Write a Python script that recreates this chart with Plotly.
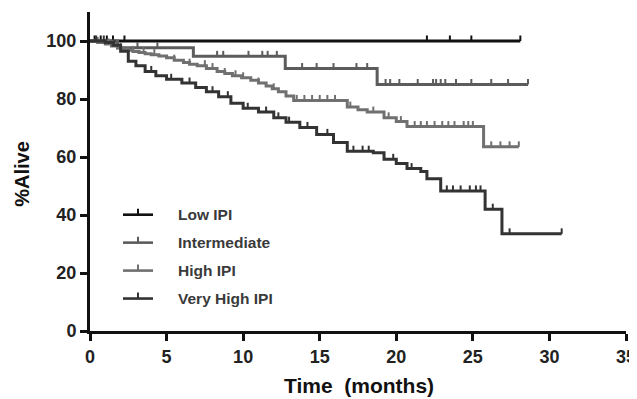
import plotly.graph_objects as go

# ---- data ----
low_t = [0, 28.1]
low_s = [100, 100]
low_cens = [0.3, 0.7, 1.1, 1.5, 2.25, 22.0, 23.5, 24.9, 28.1]

int_t = [0, 1.8, 6.75, 12.75, 18.75, 28.6]
int_s = [100, 97.7, 94.7, 90.5, 85.0, 85.0]
int_cens = [3.1, 4.4, 8.3, 8.7, 10.35, 11.25, 11.6, 12.2, 13.85, 14.8, 15.9, 17.4,
            18.1, 19.3, 19.6, 20.2, 21.4, 22.4, 22.6, 22.9, 23.2, 23.9, 24.9, 26.2,
            27.3, 28.6]

high_t = [0, 0.5, 1.0, 1.4, 1.8, 2.1, 2.5, 2.8, 3.2, 3.6, 4.0, 4.5, 5.0, 5.5, 6.1,
          6.5, 7.0, 7.6, 8.3, 8.8, 9.3, 9.9, 10.5, 11.0, 11.5, 11.9, 12.3, 12.8,
          13.3, 16.8, 17.5, 18.1, 19.2, 20.0, 20.7, 25.7, 28.0]
high_s = [100, 99.5, 99.0, 98.3, 97.6, 97.2, 96.8, 96.4, 96.0, 95.6, 95.3, 94.8,
          94.2, 93.4, 92.6, 92.0, 91.5, 90.5, 89.5, 88.8, 88.0, 87.3, 86.5, 85.5,
          84.5, 83.5, 82.5, 81.0, 79.5, 77.2, 76.3, 75.5, 73.5, 72.2, 70.5, 63.5, 63.5]
high_cens = [0.5, 1.2, 2.0, 2.8, 3.5, 4.2, 5.5, 6.5, 7.5, 8.0, 8.8, 9.5, 10.0, 11.0,
             12.0, 13.5, 14.0, 14.5, 15.0, 15.5, 16.0, 17.0, 18.5, 19.5, 20.3, 21.2,
             21.6, 22.0, 22.5, 23.0, 23.4, 23.8, 24.4, 24.7, 25.0, 26.2, 26.8, 27.4,
             28.0]

vhigh_t = [0, 1.0, 1.5, 2.0, 2.5, 3.0, 3.6, 4.3, 5.0, 6.0, 6.9, 7.6, 8.4, 9.2, 10.0,
           11.0, 12.0, 12.8, 13.7, 14.8, 15.9, 16.8, 18.5, 19.2, 20.0, 20.7, 21.6,
           22.0, 22.9, 25.8, 26.9, 30.8]
vhigh_s = [100, 99.5, 98.5, 96.5, 93.0, 91.5, 89.5, 88.0, 86.8, 85.5, 84.0, 82.5,
           80.8, 78.5, 76.8, 75.5, 73.5, 72.0, 70.2, 67.8, 65.0, 62.0, 61.5, 59.2,
           57.8, 56.0, 55.0, 52.5, 48.3, 42.0, 33.5, 33.5]
vhigh_cens = [0.4, 0.9, 1.6, 4.0, 5.3, 6.5, 8.0, 9.0, 10.3, 11.5, 12.3, 13.0, 14.2,
              15.5, 17.2, 17.8, 18.2, 19.8, 21.0, 23.3, 23.7, 24.2, 24.8, 25.2, 25.5,
              26.3, 27.4, 30.8]

series_names = ["Low IPI", "Intermediate", "High IPI", "Very High IPI"]
series_colors = ["#111111", "#5c5c5c", "#707070", "#333333"]

x_ticks = [0, 5, 10, 15, 20, 25, 30, 35]
y_ticks = [0, 20, 40, 60, 80, 100]
x_title = "Time\u00a0 (months)"
y_title = "%Alive"

series = [(low_t, low_s, low_cens), (int_t, int_s, int_cens),
          (high_t, high_s, high_cens), (vhigh_t, vhigh_s, vhigh_cens)]

TICK_H = 1.9


def surv_at(ts, ss, c):
    v = ss[0]
    for t, s in zip(ts, ss):
        if t <= c:
            v = s
    return v


fig = go.Figure()
for (ts, ss, cens), name, col in zip(series, series_names, series_colors):
    fig.add_trace(go.Scatter(x=ts, y=ss, mode="lines", line=dict(color=col, width=3, shape="hv"),
                             name=name, showlegend=False, hoverinfo="skip"))
    cx, cy = [], []
    for c in cens:
        s = surv_at(ts, ss, c)
        cx += [c, c, None]
        cy += [s, s + TICK_H, None]
    fig.add_trace(go.Scatter(x=cx, y=cy, mode="lines", line=dict(color=col, width=2),
                             showlegend=False, hoverinfo="skip"))

# layout geometry (pixels); page body has an 8px margin, so the figure is shifted by 8px
OFF = 8
W, HT = 637 - OFF, 399 - OFF
L, R, T = 90 - OFF, 11, 12 - OFF
B = HT - (331.5 - OFF)
PW, PH = W - L - R, HT - T - B


def px_x(p):
    return (p - OFF - L) / PW


def px_y(p):
    return (HT - B - (p - OFF)) / PH


# legend drawn manually
leg_y_px = [215, 243, 271, 299]
x0p, x1p, xtp = 123, 153, 176
shapes = []
annotations = []
for name, col, py in zip(series_names, series_colors, leg_y_px):
    yp = px_y(py)
    xa, xb = px_x(x0p), px_x(x1p)
    xm = (xa + xb) / 2
    shapes.append(dict(type="line", xref="paper", yref="paper", x0=xa, x1=xb, y0=yp, y1=yp,
                       line=dict(color=col, width=2.6)))
    shapes.append(dict(type="line", xref="paper", yref="paper", x0=xm, x1=xm, y0=yp, y1=yp + 6 / PH,
                       line=dict(color=col, width=2)))
    annotations.append(dict(text=name, xref="paper", yref="paper", x=px_x(xtp), y=yp,
                            xanchor="left", yanchor="middle", showarrow=False,
                            font=dict(family="Liberation Sans", size=15.5, color="#3a3a3a", weight="bold")))

annotations.append(dict(text=x_title, xref="paper", yref="paper", x=px_x(359), y=px_y(386),
                        xanchor="center", yanchor="middle", showarrow=False,
                        font=dict(family="Liberation Sans", size=21, color="#111", weight="bold")))
annotations.append(dict(text=y_title, xref="paper", yref="paper", x=px_x(22), y=px_y(174),
                        xanchor="center", yanchor="middle", showarrow=False, textangle=-90,
                        font=dict(family="Liberation Sans", size=20, color="#111", weight="bold")))

fig.update_layout(
    width=W, height=HT,
    margin=dict(l=L, r=R, t=T, b=B, autoexpand=False),
    plot_bgcolor="white", paper_bgcolor="white",
    shapes=shapes, annotations=annotations,
    showlegend=False,
)
axis_common = dict(showline=True, linecolor="#111", linewidth=3,
                   ticks="outside", ticklen=7, tickwidth=2.5, tickcolor="#111", showgrid=False,
                   zeroline=False, automargin=False,
                   tickfont=dict(family="Liberation Sans", size=18, color="#222", weight="bold"))
fig.update_xaxes(range=[0, 35], tickvals=x_ticks, **axis_common)
fig.update_yaxes(range=[0, 110], tickvals=y_ticks, **axis_common)

fig.write_html("out.html")
